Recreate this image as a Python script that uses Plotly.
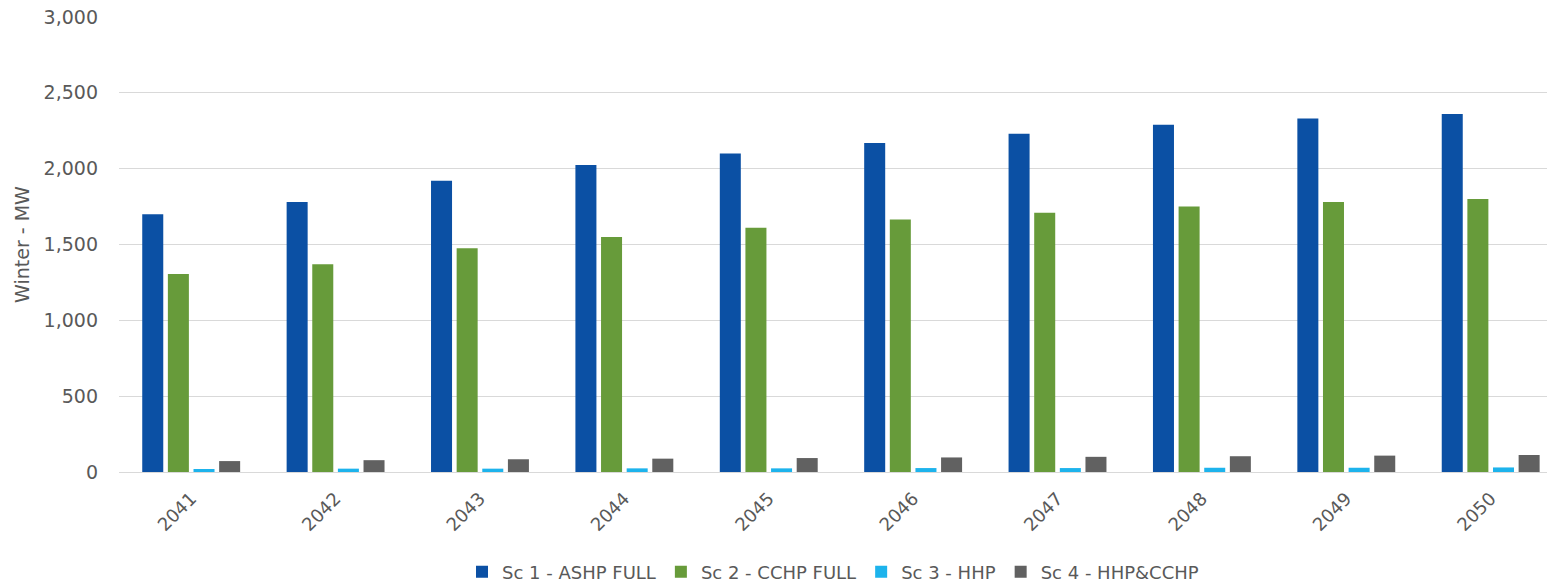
import plotly.graph_objects as go

years = ["2041", "2042", "2043", "2044", "2045", "2046", "2047", "2048", "2049", "2050"]
sc1_ashp_full = [1700, 1780, 1920, 2025, 2100, 2170, 2230, 2290, 2330, 2360]
sc2_cchp_full = [1305, 1370, 1475, 1550, 1610, 1665, 1710, 1750, 1780, 1800]
sc3_hhp = [20, 22, 22, 24, 24, 26, 26, 28, 28, 30]
sc4_hhp_cchp = [72, 78, 84, 88, 92, 96, 100, 104, 108, 112]

series = [
    ("Sc 1 - ASHP FULL", sc1_ashp_full, "#0b50a4"),
    ("Sc 2 - CCHP FULL", sc2_cchp_full, "#679b3a"),
    ("Sc 3 - HHP", sc3_hhp, "#1db3ec"),
    ("Sc 4 - HHP&CCHP", sc4_hhp_cchp, "#616161"),
]

fig = go.Figure()
for name, vals, color in series:
    fig.add_trace(go.Bar(x=years, y=vals, name=name, marker=dict(color=color, line=dict(width=0))))

font_family = "'DejaVu Sans', sans-serif"
text_color = "#595959"
fig.update_layout(
    width=1547,
    height=587,
    paper_bgcolor="white",
    plot_bgcolor="white",
    barmode="group",
    bargap=0.29,
    bargroupgap=0.18,
    margin=dict(l=119, r=0, t=17, b=115, autoexpand=False),
    font=dict(family=font_family, size=16, color=text_color),
    showlegend=True,
    legend=dict(
        orientation="h",
        x=0.5,
        xanchor="center",
        y=-0.22,
        yanchor="middle",
        font=dict(size=18, color=text_color),
        itemwidth=30,
        traceorder="normal",
    ),
    xaxis=dict(
        type="category",
        range=[-0.5, 9.39],
        tickangle=-45,
        tickfont=dict(size=18, color=text_color),
        ticklabelstandoff=8,
        showgrid=False,
        showline=True,
        linecolor="#d9d9d9",
        linewidth=1,
        ticks="",
    ),
    yaxis=dict(
        range=[0, 3000],
        tickvals=[0, 500, 1000, 1500, 2000, 2500, 3000],
        tickformat=",d",
        tickfont=dict(size=19, color=text_color),
        showgrid=True,
        gridcolor="#d9d9d9",
        gridwidth=1,
        zeroline=False,
        ticks="",
        ticklabelstandoff=20,
        title=dict(text="Winter - MW", font=dict(size=19, color=text_color), standoff=8),
    ),
)

fig.write_html("out.html")
